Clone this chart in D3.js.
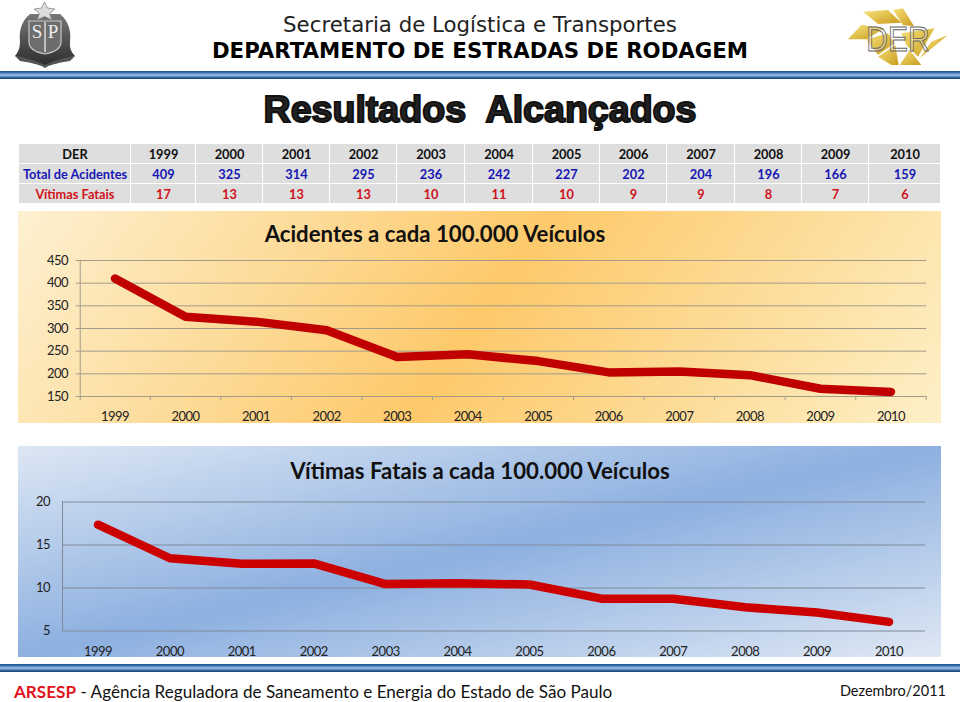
<!DOCTYPE html>
<html><head><meta charset="utf-8">
<script src="https://cdn.jsdelivr.net/npm/d3@7/dist/d3.min.js"></script>
<style>html,body{margin:0;padding:0;background:#fff;overflow:hidden}svg{display:block}text{font-family:Lato,sans-serif}</style>
</head><body><svg id="c" width="960" height="702"></svg>
<script>
const years = [1999,2000,2001,2002,2003,2004,2005,2006,2007,2008,2009,2010];
const totalAcidentes = [409,325,314,295,236,242,227,202,204,196,166,159];
const vitimasFatais = [17,13,13,13,10,11,10,9,9,8,7,6];
const acidentesRate = [409,325,314,295,236,242,227,202,204,196,166,159];
const vitimasRate = [17.3,13.4,12.75,12.8,10.4,10.5,10.35,8.7,8.7,7.7,7.1,6.0];
const ticksAcidentes = [150,200,250,300,350,400,450];
const ticksVitimas = [5,10,15,20];

const svg = d3.select("#c");
const defs = svg.append("defs");
function grad(id, stops, x1=0,y1=0,x2=1,y2=1,user=false){
  const g = defs.append("linearGradient").attr("id",id).attr("x1",x1).attr("y1",y1).attr("x2",x2).attr("y2",y2);
  if(user) g.attr("gradientUnits","userSpaceOnUse");
  stops.forEach(([o,c])=>g.append("stop").attr("offset",o).attr("stop-color",c));
}
grad("gOrange",[[0,"#fdf1d2"],[0.5,"#fdc96a"],[1,"#fdf0c8"]],18,211,18+1071*0.671,211+1071*0.47,true);
grad("gBlue",[[0,"#dde7f4"],[0.5,"#8db0e0"],[1,"#dfe8f4"]],0,0,1,1);
grad("gBar",[[0,"#1f4e86"],[0.25,"#3f77b8"],[0.5,"#a9c6e8"],[0.75,"#3f77b8"],[1,"#17375e"]],0,0,0,1);
grad("gGold",[[0,"#f9e27a"],[1,"#c99c1e"]],0,0,1,1);
grad("gSeal",[[0,"#777"],[1,"#2e2e2e"]],0,0,0,1);

// header
svg.append("text").attr("x",480).attr("y",32).attr("text-anchor","middle").style("font-family","'DejaVu Sans'").style("font-size","21.3px").attr("fill","#222").text("Secretaria de Logística e Transportes");
svg.append("text").attr("x",480).attr("y",58).attr("text-anchor","middle").style("font-family","'DejaVu Sans'").style("font-weight","bold").style("font-size","21.3px").attr("fill","#000").text("DEPARTAMENTO DE ESTRADAS DE RODAGEM");
[71,664].forEach(y=>{
  svg.append("rect").attr("x",0).attr("y",y).attr("width",960).attr("height",8).attr("fill","url(#gBar)");
});
svg.append("text").attr("x",480).attr("y",122).attr("text-anchor","middle").style("font-family","'Liberation Sans'").style("font-weight","bold").style("font-size","37.6px").attr("fill","#222").attr("stroke","#111").attr("stroke-width",2).attr("xml:space","preserve").text("Resultados  Alcançados");

// seal logo
const seal = svg.append("g").attr("class","seal");
seal.append("path").attr("d","M30 14 Q18 24 20 42 Q20 50 15 56 L25 60 Q45 70 65 60 L75 56 Q69 50 70 42 Q72 24 60 14 Z").attr("fill","url(#gSeal)");
seal.append("path").attr("d","M15 56 Q30 58 45 65 Q60 58 75 56 L70 61 Q50 64 45 68 Q40 64 20 61 Z").attr("fill","#555");
seal.append("path").attr("d","M29 21 L61 21 L61 42 Q61 51 45 54 Q29 51 29 42 Z").attr("fill","#6d6d6d").attr("stroke","#c9c9c9").attr("stroke-width",1.2);
seal.append("path").attr("d","M44.5 2 L47.5 8 L55 9 L49.5 13.5 L52 20 L44.5 16.5 L37 20 L39.5 13.5 L34 9 L41.5 8 Z").attr("fill","#dcdcdc").attr("stroke","#777").attr("stroke-width",.7);
seal.append("text").attr("x",37).attr("y",38).attr("text-anchor","middle").style("font-family","'Liberation Serif'").style("font-size","19px").attr("fill","#eee").text("S");
seal.append("text").attr("x",53).attr("y",38).attr("text-anchor","middle").style("font-family","'Liberation Serif'").style("font-size","19px").attr("fill","#eee").text("P");
seal.append("line").attr("x1",45).attr("x2",45).attr("y1",22).attr("y2",52).attr("stroke","#ddd").attr("stroke-width",1.5);

// DER logo
const der = svg.append("g").attr("class","der").attr("transform","translate(838,0) scale(0.3333)");
["M75 35 L150 30 L190 68 L120 72 Z","M165 30 L195 25 L228 78 L195 76 Z","M30 118 L70 75 L140 85 L85 118 Z",
 "M85 118 L150 100 L170 130 L120 165 Z","M120 170 L172 135 L182 195 L160 195 Z","M185 195 L215 150 L250 195 Z",
 "M190 100 L290 85 L240 170 L205 135 Z","M280 125 L330 105 L245 175 Z"].forEach(d=>{
  der.append("path").attr("d",d).attr("fill","url(#gGold)");
});
der.append("text").attr("x",85).attr("y",152).attr("textLength",190).attr("lengthAdjust","spacingAndGlyphs").style("font-family","'Liberation Sans'").style("font-size","108px").attr("fill","#fff").attr("fill-opacity",.3).attr("stroke","#666").attr("stroke-width",3).text("DER");

// table
const colEdges = [19,131,196,263,330,397,465,533,600,667,735,802,869,941];
const rowH = d3.scaleBand().domain(["h","a","v"]).range([144,204]);
const rows = [
  {k:"h",label:"DER",vals:years,fill:"#111"},
  {k:"a",label:"Total de Acidentes",vals:totalAcidentes,fill:"#1616b4"},
  {k:"v",label:"Vítimas Fatais",vals:vitimasFatais,fill:"#d0141c"}
];
rows.forEach(r=>{
  const g = svg.append("g");
  [r.label,...r.vals].forEach((t,i)=>{
    const x0=colEdges[i],x1=colEdges[i+1];
    g.append("rect").attr("x",x0).attr("y",rowH(r.k)).attr("width",x1-x0-1).attr("height",rowH.bandwidth()-1).attr("fill","#dedede");
    g.append("text").attr("x",(x0+x1)/2).attr("y",rowH(r.k)+rowH.bandwidth()/2+4.5).attr("text-anchor","middle").attr("fill",r.fill).style("font-size","12.8px").style("font-weight",700).text(t);
  });
});

function chart(o){
  const g = svg.append("g");
  g.append("rect").attr("x",o.panel[0]).attr("y",o.panel[1]).attr("width",o.panel[2]-o.panel[0]).attr("height",o.panel[3]-o.panel[1]).attr("fill",o.fill);
  const x = d3.scalePoint().domain(o.cats).range([o.x1999,o.x2010]);
  const step = x.step();
  const y = d3.scaleLinear().domain(o.domain).range(o.yRange);
  const left = o.x1999-step/2, right=o.x2010+step/2;
  g.selectAll("line.grid").data(o.ticks).join("line").attr("class","grid")
    .attr("x1",left-(o.tick?4:0)).attr("x2",right).attr("y1",d=>y(d)+.5).attr("y2",d=>y(d)+.5).attr("stroke",o.grid).attr("stroke-width",1);
  g.append("line").attr("x1",left+.5).attr("x2",left+.5).attr("y1",o.yRange[1]).attr("y2",o.yRange[0]+(o.tick?4:0)).attr("stroke",o.grid);
  if(o.tick){
    g.selectAll("line.xt").data(o.cats).join("line").attr("class","xt")
      .attr("x1",d=>x(d)+step/2).attr("x2",d=>x(d)+step/2).attr("y1",o.yRange[0]).attr("y2",o.yRange[0]+4).attr("stroke",o.grid);
  }
  g.selectAll("text.yl").data(o.ticks).join("text").attr("class","yl")
    .attr("x",o.yLabelX).attr("y",d=>y(d)+4.5).attr("text-anchor","end").attr("fill","#222").style("font-size","13px").style("letter-spacing","-0.5px").text(d=>d);
  g.selectAll("text.xl").data(o.cats).join("text").attr("class","xl")
    .attr("x",d=>x(d)).attr("y",o.xLabelY).attr("text-anchor","middle").attr("fill","#222").style("font-size","13px").style("letter-spacing","-0.5px").text(d=>d);
  g.append("text").attr("x",o.titleX).attr("y",o.titleY).attr("text-anchor","middle").attr("fill","#111").style("font-size","22.2px").style("font-weight",700).text(o.title);
  const line = d3.line().x((d,i)=>x(o.cats[i])).y(d=>y(d));
  g.append("path").attr("d",line(o.values)).attr("fill","none").attr("stroke",o.color).attr("stroke-width",8.5).attr("stroke-linecap","round").attr("stroke-linejoin","round");
}
chart({panel:[18,211,941,423],fill:"url(#gOrange)",cats:years,x1999:115,x2010:891,domain:[150,450],yRange:[396,260],ticks:ticksAcidentes,values:acidentesRate,tick:true,yLabelX:68,xLabelY:421,titleX:435,titleY:242,title:"Acidentes a cada 100.000 Veículos",color:"#c00000",grid:"#a39c8c"});
chart({panel:[18,446,941,657],fill:"url(#gBlue)",cats:years,x1999:98,x2010:889,domain:[5,20],yRange:[630.5,501.5],ticks:ticksVitimas,values:vitimasRate,tick:false,yLabelX:50,xLabelY:656,titleX:480,titleY:479,title:"Vítimas Fatais a cada 100.000 Veículos",color:"#cc0000",grid:"#7f8a99"});

// footer
const f = svg.append("text").attr("x",14).attr("y",698).attr("fill","#111").style("font-size","17.1px");
f.append("tspan").attr("fill","#e0141c").style("font-weight",700).text("ARSESP");
f.append("tspan").text(" - Agência Reguladora de Saneamento e Energia do Estado de São Paulo");
svg.append("text").attr("x",946).attr("y",696).attr("text-anchor","end").attr("fill","#111").style("font-size","14.5px").text("Dezembro/2011");
</script></body></html>
